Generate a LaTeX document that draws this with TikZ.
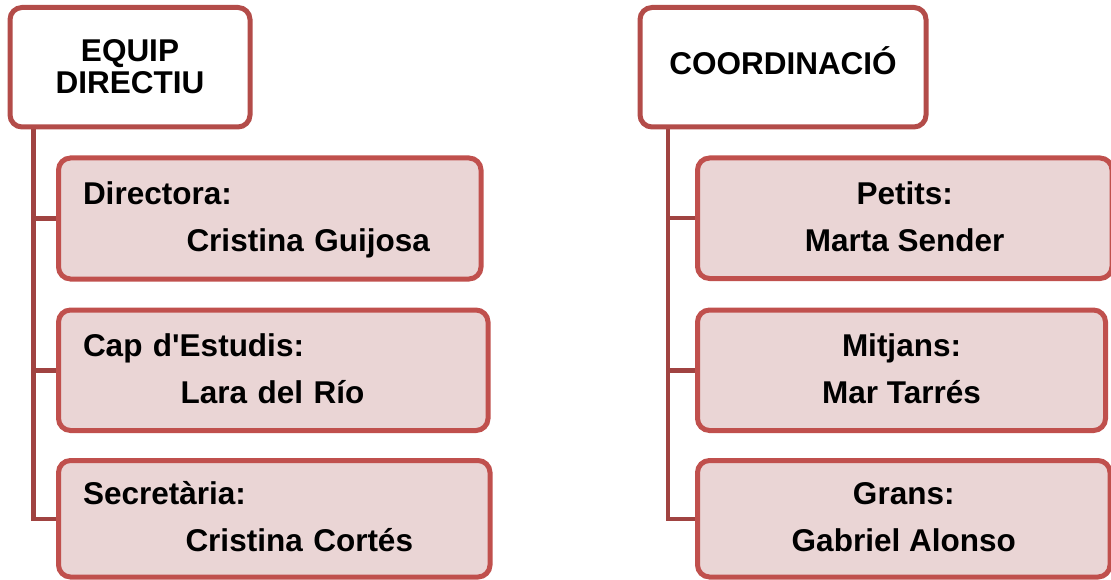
\documentclass[tikz,border=0pt]{standalone}
\usepackage{fontspec}
\newfontfamily\lib{Liberation Sans}
\definecolor{hdrborder}{HTML}{B34C49}
\definecolor{boxborder}{HTML}{C0504D}
\definecolor{boxfill}{HTML}{EAD5D5}
\definecolor{conncol}{HTML}{A04341}
\pgfdeclarelayer{bg}
\pgfsetlayers{bg,main}
\begin{document}
\begin{tikzpicture}[x=1pt,y=-1pt,
  hdr/.style={draw=hdrborder, line width=5pt, fill=white, rounded corners=12pt, inner sep=0pt,
    font=\lib\bfseries\fontsize{31.5}{32}\selectfont},
  child/.style={draw=boxborder, line width=5pt, fill=boxfill, rounded corners=12pt, inner sep=0pt,
    font=\lib\bfseries\fontsize{31.5}{47}\selectfont},
  conn/.style={draw=conncol, line width=4.5pt}]
\useasboundingbox (0,0) rectangle (1111,580);

% headers
\node[hdr, minimum width=240pt, minimum height=119.5pt, align=center] (h1) at (130,67.25)
  {\rule{0pt}{24pt}EQUIP\\DIRECTIU\rule[-3.5pt]{0pt}{3.5pt}};
\node[hdr, minimum width=286pt, minimum height=119.5pt, text height=22pt, text depth=6.5pt] (h2) at (783,67.25)
  {COORDINACIÓ};

% left children
\node[child, minimum width=422.5pt, minimum height=121pt, text width=373.5pt, align=left] (c1) at (269.75,218.5)
  {\strut Directora:\\\hspace*{103.5pt}Cristina Guijosa\strut};
\node[child, minimum width=429.5pt, minimum height=120.5pt, text width=380.5pt, align=left] (c2) at (273.25,370.25)
  {\strut Cap d'Estudis:\\\hspace*{97.7pt}Lara del Río\strut};
\node[child, minimum width=431.5pt, minimum height=116.5pt, text width=382.5pt, align=left] (c3) at (274.25,518.75)
  {\strut Secretària:\\\hspace*{102.5pt}Cristina Cortés\strut};

% right children
\node[child, minimum width=414.5pt, minimum height=120.5pt, align=center] (r1) at (904.75,218.25)
  {\strut Petits:\\Marta Sender\strut};
\node[child, minimum width=408pt, minimum height=120.5pt, align=center] (r2) at (901.5,370.25)
  {\strut Mitjans:\\Mar Tarrés\strut};
\node[child, minimum width=412.5pt, minimum height=116.5pt, align=center] (r3) at (903.75,518.75)
  {\strut Grans:\\Gabriel Alonso\strut};

% connectors
\coordinate (sL) at (33.5,0);
\coordinate (sR) at (668,0);
\begin{pgfonlayer}{bg}
\draw[conn] (sL |- h1.south) |- (c3.west);
\draw[conn] (sL |- c1.west) -- (c1.west);
\draw[conn] (sL |- c2.west) -- (c2.west);
\draw[conn] (sR |- h2.south) |- (r3.west);
\draw[conn] (sR |- r1.west) -- (r1.west);
\draw[conn] (sR |- r2.west) -- (r2.west);
\end{pgfonlayer}
\end{tikzpicture}
\end{document}
